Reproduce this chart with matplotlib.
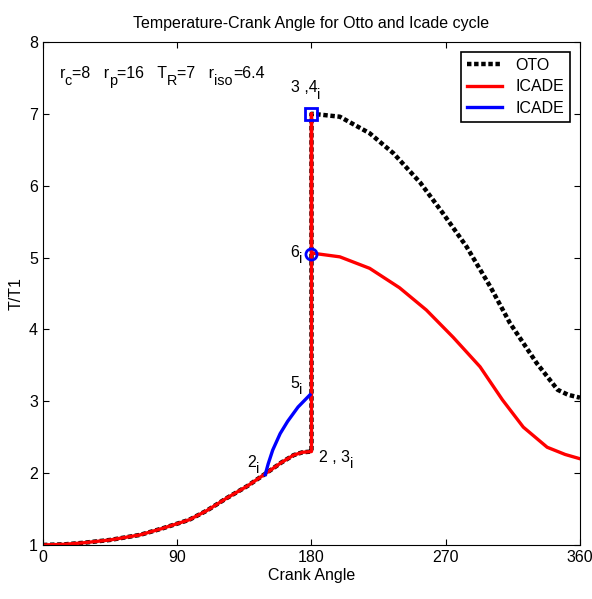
import numpy as np
import matplotlib
matplotlib.use("Agg")
from matplotlib import pyplot as plt
from matplotlib.font_manager import FontProperties

plt.rcParams["font.family"] = ["Liberation Sans", "DejaVu Sans"]

# compression stroke (shared by both cycles)
comp_angle = [0, 15, 27, 45, 65, 80, 98, 110, 123, 137, 149, 160, 168, 174, 180]
comp_temp = [1.0, 1.01, 1.03, 1.07, 1.14, 1.23, 1.35, 1.48, 1.65, 1.82, 1.99, 2.15, 2.25, 2.29, 2.30]

# Otto expansion
oto_angle = [180, 181, 199, 219, 235, 253, 268, 284, 300, 313, 331, 345, 352, 360]
oto_temp = [7.0, 7.0, 6.96, 6.73, 6.45, 6.04, 5.62, 5.15, 4.59, 4.09, 3.53, 3.16, 3.09, 3.05]

# ICADE expansion
icade_angle = [180, 181, 199, 219, 239, 257, 275, 293, 308, 322, 338, 350, 360]
icade_temp = [5.05, 5.06, 5.01, 4.85, 4.58, 4.27, 3.89, 3.48, 3.02, 2.64, 2.36, 2.26, 2.20]

# ICADE branch 2i -> 5i
blue_angle = [149, 151, 154, 159, 164, 171, 179]
blue_temp = [1.98, 2.13, 2.32, 2.55, 2.72, 2.92, 3.09]

oto_x = comp_angle + oto_angle
oto_y = comp_temp + oto_temp
red_x = comp_angle + [180] + icade_angle
red_y = comp_temp + [7.0] + icade_temp

FS = 11.5

fig = plt.figure(figsize=(5.92, 5.99), dpi=100)
ax = fig.add_axes([0.0726, 0.0902, 0.9071, 0.8397])
renderer = fig.canvas.get_renderer()


def sub_label(x, y, parts):
    """text with MATLAB-like subscripts: parts = [(string, is_sub), ...]"""
    dx = 0.0
    for s, sub in parts:
        size = FS * 0.9 if sub else FS
        ax.annotate(s, (x, y), xycoords="data", xytext=(dx, -5 if sub else 0),
                    textcoords="offset points", fontsize=size, va="center")
        w, _, _ = renderer.get_text_width_height_descent(
            s, FontProperties(family=["Liberation Sans"], size=size), ismath=False)
        dx += w * 72 / fig.dpi


ax.plot(oto_x, oto_y, color="black", lw=3.2, linestyle=(0, (1.0, 0.6)), label="OTO")
ax.plot(red_x, red_y, color="red", lw=2.4, label="ICADE")
ax.plot(blue_angle, blue_temp, color="blue", lw=2.4, label="ICADE")
ax.plot([180], [7.0], marker="s", ms=8, mfc="none", mec="blue", mew=2, ls="none")
ax.plot([180], [5.05], marker="o", ms=8, mfc="none", mec="blue", mew=2, ls="none")

sub_label(11, 7.56, [("r", False), ("c", True), ("=8   r", False), ("p", True),
                     ("=16   T", False), ("R", True), ("=7   r", False), ("iso", True),
                     ("=6.4", False)])
sub_label(166, 7.36, [("3 ,4", False), ("i", True)])
sub_label(166, 5.07, [("6", False), ("i", True)])
sub_label(166, 3.25, [("5", False), ("i", True)])
sub_label(137, 2.15, [("2", False), ("i", True)])
sub_label(185, 2.22, [("2 , 3", False), ("i", True)])

ax.set_xlim(0, 360)
ax.set_ylim(1, 8)
ax.set_xticks([0, 90, 180, 270, 360])
ax.set_yticks(range(1, 9))
ax.tick_params(direction="in", top=True, right=True, labelsize=FS, length=4)
ax.set_xlabel("Crank Angle", fontsize=FS, labelpad=2)
ax.set_ylabel("T/T1", fontsize=FS, labelpad=4)
ax.set_title("Temperature-Crank Angle for Otto and Icade cycle", fontsize=FS, pad=10)

leg = ax.legend(loc="upper right", fontsize=FS, fancybox=False, framealpha=1,
                edgecolor="black", handlelength=2.2, borderaxespad=0.6,
                labelspacing=0.4)
leg.get_frame().set_linewidth(1.2)

plt.savefig("out.png", dpi=100)
plt.close()
